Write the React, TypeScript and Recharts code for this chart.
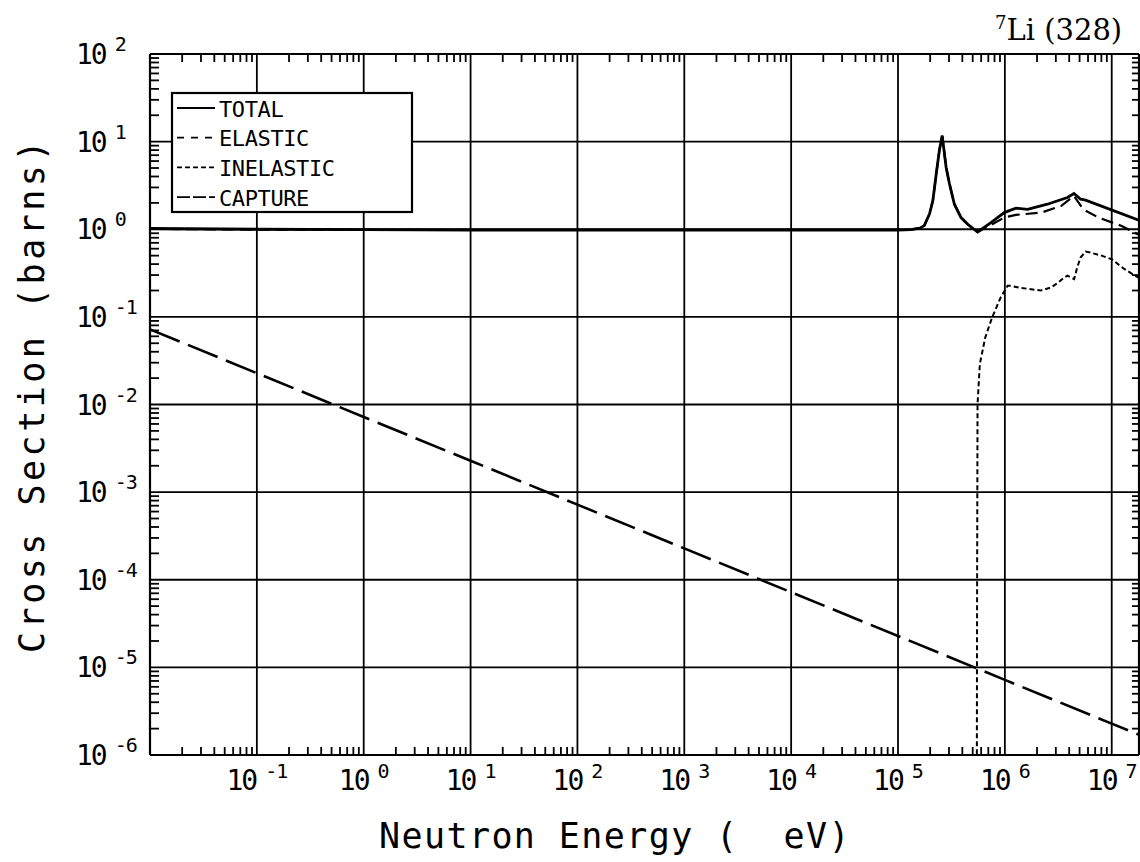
import { LineChart, Line, XAxis, YAxis, CartesianGrid } from "recharts";

// axis setup
const X_DOMAIN = [0.01, 1.8e7];
const Y_DOMAIN = [1e-6, 100];
const X_MAJOR = [1e-1, 1, 10, 1e2, 1e3, 1e4, 1e5, 1e6, 1e7];
const Y_MAJOR = [1e-6, 1e-5, 1e-4, 1e-3, 1e-2, 1e-1, 1, 10, 100];
const X_DECADES = [-2, -1, 0, 1, 2, 3, 4, 5, 6, 7];
const Y_DECADES = [-6, -5, -4, -3, -2, -1, 0, 1];
const MINOR_STEPS = [2, 3, 4, 5, 6, 7, 8, 9];

// TOTAL
const TOTAL_E = [
  0.01, 0.1, 1, 10, 1e2, 1e3, 1e4, 1e5, 1.32e5, 1.6e5, 1.76e5, 1.97e5, 2.12e5,
  2.28e5, 2.44e5, 2.59e5, 2.82e5, 3.03e5, 3.37e5, 3.89e5, 4.49e5, 5.56e5,
  7.41e5, 9.86e5, 1.27e6, 1.63e6, 2.5e6, 3.85e6, 4.43e6, 5.12e6, 5.69e6, 1.85e7,
];
const TOTAL_XS = [
  1.02, 1.0, 0.99, 0.98, 0.98, 0.98, 0.98, 0.98, 0.99, 1.03, 1.1, 1.49, 2.13,
  4.3, 8.0, 11.7, 5.1, 3.3, 1.93, 1.36, 1.14, 0.93,
  1.19, 1.55, 1.74, 1.69, 1.93, 2.3, 2.56, 2.2, 2.15, 1.25,
];

// ELASTIC
const ELASTIC_E = [
  0.01, 0.1, 1, 10, 1e2, 1e3, 1e4, 1e5, 1.32e5, 1.6e5, 1.76e5, 1.97e5, 2.12e5,
  2.28e5, 2.44e5, 2.59e5, 2.82e5, 3.03e5, 3.37e5, 3.89e5, 4.49e5, 5.56e5,
  7.41e5, 9.86e5, 1.27e6, 2.2e6, 3.38e6, 4.43e6, 5.41e6, 7.5e6, 1.24e7, 1.85e7,
];
const ELASTIC_XS = [
  1.01, 0.99, 0.98, 0.98, 0.98, 0.98, 0.98, 0.98, 0.99, 1.03, 1.1, 1.49, 2.13,
  4.3, 8.0, 11.7, 5.1, 3.3, 1.93, 1.36, 1.14, 0.93,
  1.12, 1.36, 1.46, 1.55, 1.85, 2.4, 1.69, 1.36, 1.09, 0.85,
];

// INELASTIC
const INELASTIC_E = [
  5.46e5, 5.47e5, 5.5e5, 5.55e5, 5.83e5, 6.55e5, 7.59e5, 9.12e5, 1.06e6,
  1.14e6, 1.38e6, 2.17e6, 2.69e6, 3.16e6, 3.56e6, 3.85e6, 4.45e6, 4.75e6,
  5.1e6, 5.7e6, 6.37e6, 8.05e6, 1.0e7, 1.32e7, 1.78e7,
];
const INELASTIC_XS = [
  1e-8, 1e-6, 1e-4, 1e-2, 0.029, 0.058, 0.098, 0.166, 0.226,
  0.226, 0.215, 0.2, 0.216, 0.246, 0.28, 0.295, 0.27, 0.365,
  0.475, 0.556, 0.54, 0.5, 0.455, 0.35, 0.28,
];

// CAPTURE
const CAPTURE_E = [0.01, 0.1, 1, 10, 1e2, 1e3, 1e4, 1e5, 1e6, 1e7, 1.85e7];
const CAPTURE_XS = [
  0.072, 0.0228, 0.0072, 0.00228, 7.2e-4, 2.28e-4, 7.2e-5, 2.28e-5, 7.2e-6,
  2.28e-6, 1.68e-6,
];

const LEGEND_ITEMS = [
  { name: "TOTAL", dash: undefined },
  { name: "ELASTIC", dash: "7 7" },
  { name: "INELASTIC", dash: "5 3" },
  { name: "CAPTURE", dash: "13 3" },
];

const toPoints = (xs: number[], ys: number[]) =>
  xs.map((x, i) => ({ x, y: ys[i] }));

const totalData = toPoints(TOTAL_E, TOTAL_XS);
const elasticData = toPoints(ELASTIC_E, ELASTIC_XS);
const inelasticData = toPoints(INELASTIC_E, INELASTIC_XS);
const captureData = toPoints(CAPTURE_E, CAPTURE_XS);

const xMinor = X_DECADES.flatMap((d) => MINOR_STEPS.map((m) => m * 10 ** d)).filter(
  (v) => v < X_DOMAIN[1]
);
const yMinor = Y_DECADES.flatMap((d) => MINOR_STEPS.map((m) => m * 10 ** d));

const MONO = "'DejaVu Sans Mono', monospace";
const FRAME = { stroke: "#000", strokeWidth: 2.2 };

// plot box edges (chart margins)
const TOP = 54;
const BOTTOM = 755;
const LEFT = 150;
const RIGHT = 1139;

function XTick({ x, payload }: any) {
  const exp = Math.round(Math.log10(payload.value));
  return (
    <text x={x} y={790} textAnchor="middle" fontFamily={MONO} fontSize={28} letterSpacing={-2} fill="#000">
      10
      <tspan dx={9} dy={-12} fontSize={20} letterSpacing={-1}>
        {exp}
      </tspan>
    </text>
  );
}

function YTick({ y, payload }: any) {
  const exp = Math.round(Math.log10(payload.value));
  return (
    <text x={76} y={y + 10} textAnchor="start" fontFamily={MONO} fontSize={28} letterSpacing={-2} fill="#000">
      10
      <tspan dx={9} dy={-13} fontSize={20} letterSpacing={-1}>
        {exp}
      </tspan>
    </text>
  );
}

// inward minor ticks, drawn from the tick position the axis hands over
function XMinorTick({ x }: any) {
  return (
    <g>
      <line x1={x} x2={x} y1={BOTTOM} y2={BOTTOM - 8} stroke="#000" strokeWidth={1.8} />
      <line x1={x} x2={x} y1={TOP} y2={TOP + 8} stroke="#000" strokeWidth={1.8} />
    </g>
  );
}

function YMinorTick({ y }: any) {
  return (
    <g>
      <line x1={LEFT} x2={LEFT + 9} y1={y} y2={y} stroke="#000" strokeWidth={1.8} />
      <line x1={RIGHT} x2={RIGHT - 7} y1={y} y2={y} stroke="#000" strokeWidth={1.8} />
    </g>
  );
}

export default function App() {
  return (
    <div style={{ position: "absolute", left: 0, top: 0, width: 1140, height: 862, background: "#fff" }}>
      <LineChart width={1140} height={862} margin={{ top: TOP - 1, right: 1140 - RIGHT - 1, bottom: 862 - BOTTOM - 1, left: LEFT - 1 }}>
        <CartesianGrid stroke="#000" strokeWidth={1.8} />

        {/* labelled axes */}
        <XAxis
          dataKey="x"
          type="number"
          scale="log"
          domain={X_DOMAIN}
          allowDataOverflow
          ticks={X_MAJOR}
          interval={0}
          height={1}
          tickSize={0}
          tickMargin={0}
          tickLine={false}
          axisLine={FRAME}
          tick={<XTick />}
        />
        <YAxis
          type="number"
          scale="log"
          domain={Y_DOMAIN}
          allowDataOverflow
          ticks={Y_MAJOR}
          interval={0}
          width={1}
          tickSize={0}
          tickMargin={0}
          tickLine={false}
          axisLine={FRAME}
          tick={<YTick />}
        />

        {/* top and right frame, carrying the minor ticks of all four sides */}
        <XAxis
          xAxisId="top"
          orientation="top"
          dataKey="x"
          type="number"
          scale="log"
          domain={X_DOMAIN}
          allowDataOverflow
          ticks={xMinor}
          interval={0}
          height={1}
          tickSize={0}
          tickMargin={0}
          tickLine={false}
          axisLine={FRAME}
          tick={<XMinorTick />}
        />
        <YAxis
          yAxisId="right"
          orientation="right"
          type="number"
          scale="log"
          domain={Y_DOMAIN}
          allowDataOverflow
          ticks={yMinor}
          interval={0}
          width={1}
          tickSize={0}
          tickMargin={0}
          tickLine={false}
          axisLine={FRAME}
          tick={<YMinorTick />}
        />

        <Line data={captureData} dataKey="y" stroke="#000" strokeWidth={2.6} strokeDasharray="32 9" dot={false} isAnimationActive={false} />
        <Line data={inelasticData} dataKey="y" stroke="#000" strokeWidth={2} strokeDasharray="5 3" dot={false} isAnimationActive={false} />
        <Line data={elasticData} dataKey="y" stroke="#000" strokeWidth={2.2} strokeDasharray="12 6" dot={false} isAnimationActive={false} />
        <Line data={totalData} dataKey="y" stroke="#000" strokeWidth={2.8} dot={false} isAnimationActive={false} />
      </LineChart>

      <svg width={1140} height={862} style={{ position: "absolute", left: 0, top: 0, pointerEvents: "none" }}>
        <text x={995} y={40} fontFamily="'DejaVu Serif', serif" fontSize={29} fill="#000">
          <tspan fontSize={18} dy={-11}>
            7
          </tspan>
          <tspan dy={11}>Li (328)</tspan>
        </text>

        <text
          x={615}
          y={848}
          textAnchor="middle"
          fontFamily={MONO}
          fontSize={35}
          letterSpacing={1.4}
          fill="#000"
          style={{ whiteSpace: "pre" }}
        >
          Neutron Energy (  eV)
        </text>
        <text
          transform="translate(44,395) rotate(-90)"
          textAnchor="middle"
          fontFamily={MONO}
          fontSize={35}
          letterSpacing={3.5}
          fill="#000"
        >
          Cross Section (barns)
        </text>

        <rect x={172} y={93} width={240} height={119} fill="#fff" stroke="#000" strokeWidth={2.2} />
        {LEGEND_ITEMS.map((item, i) => {
          const cy = 108 + i * 29.7;
          return (
            <g key={item.name}>
              <line x1={177} x2={215} y1={cy} y2={cy} stroke="#000" strokeWidth={1.8} strokeDasharray={item.dash} />
              <text x={219} y={cy + 8.5} fontFamily={MONO} fontSize={22} letterSpacing={-0.4} fill="#000">
                {item.name}
              </text>
            </g>
          );
        })}
      </svg>
    </div>
  );
}
